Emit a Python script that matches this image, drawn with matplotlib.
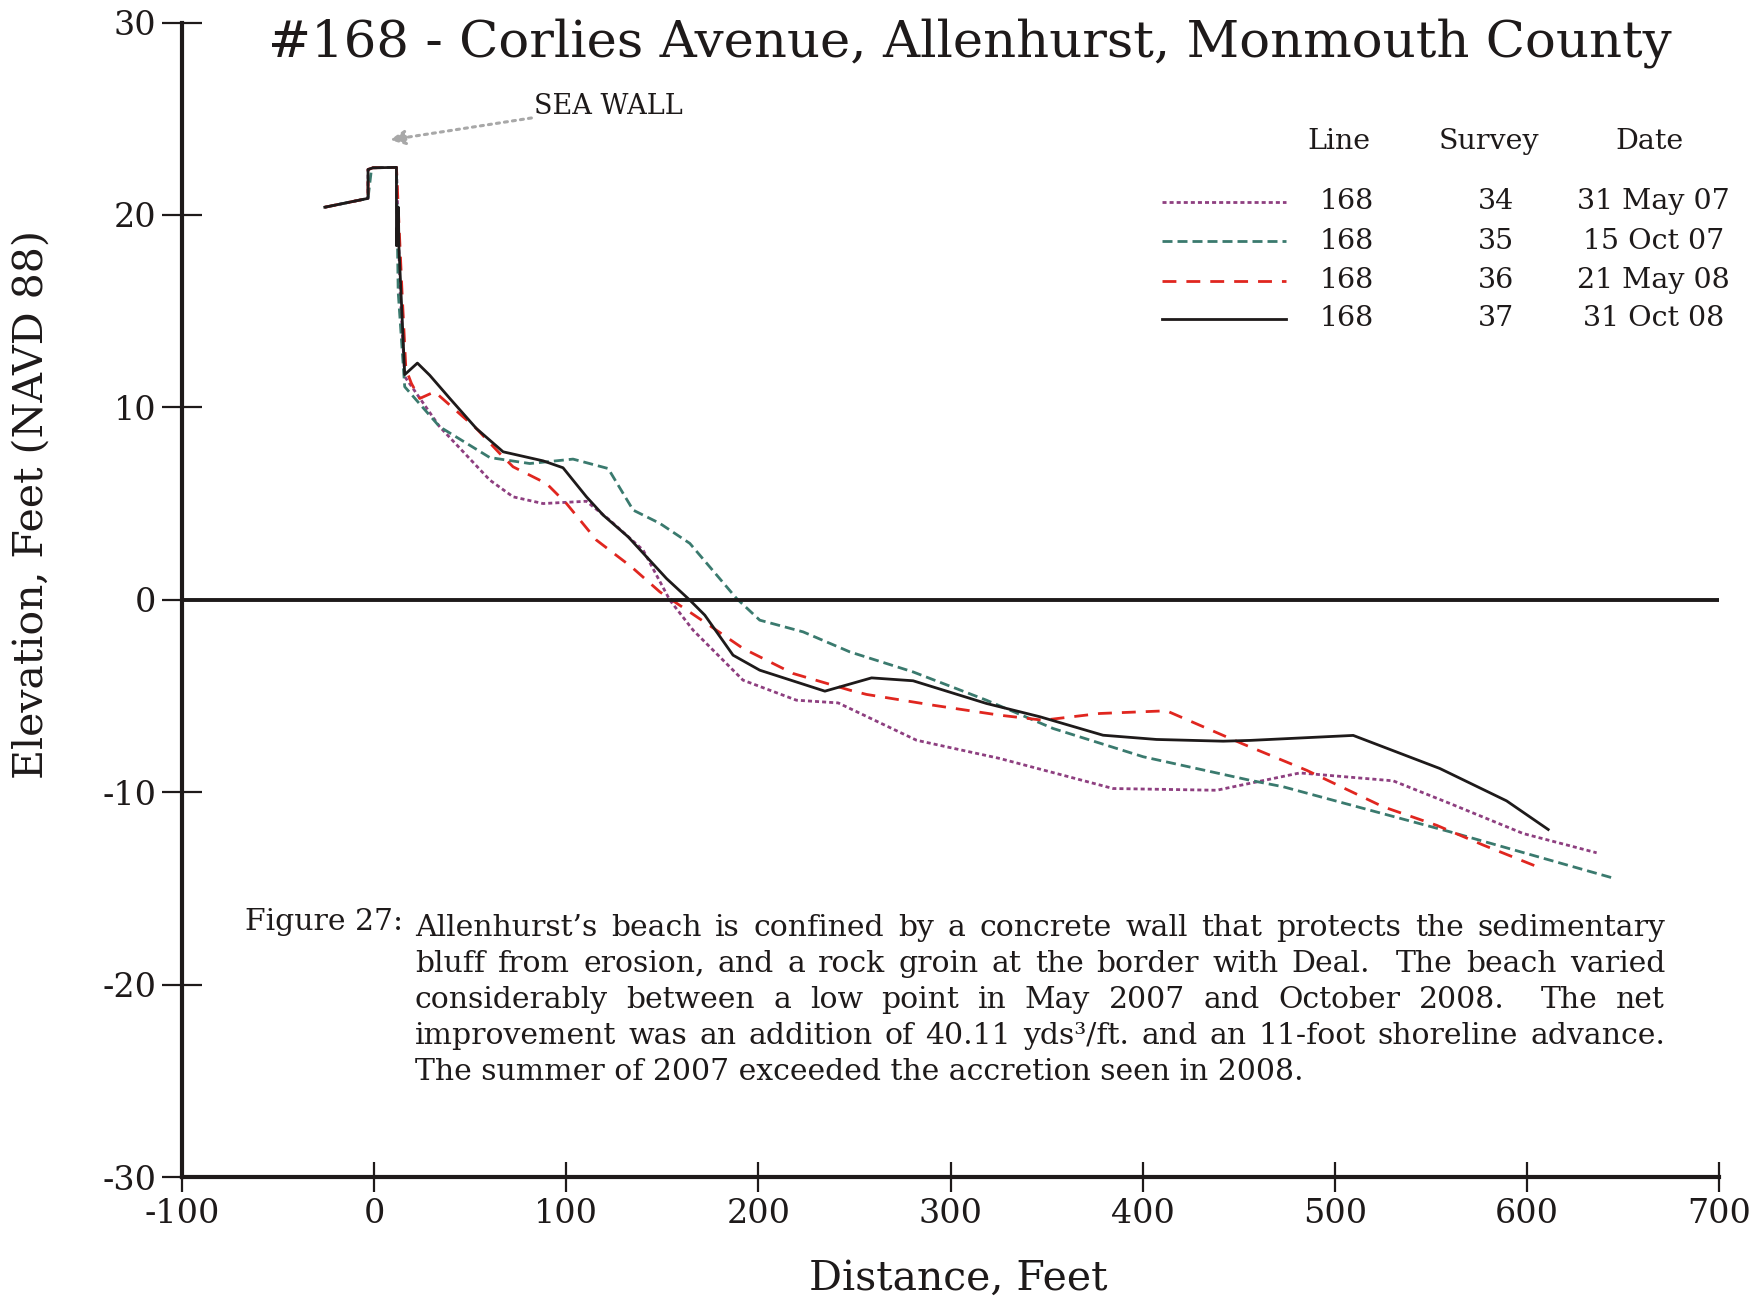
import matplotlib
matplotlib.use("Agg")
import matplotlib.pyplot as plt
from matplotlib.lines import Line2D

plt.rcParams['font.family'] = ['DejaVu Serif']
plt.rcParams['axes.unicode_minus'] = False

# Survey 34, 31 May 07
dist_34 = [-25.7, -3.2, -3.2, -0.6, 11.6, 13.5, 15.9, 34.1, 60.2, 72.3, 87.9, 110.5, 122.6,
           140.0, 153.9, 166.0, 192.0, 219.8, 241.5, 282.3, 325.7, 384.6, 438.5, 481.8,
           530.4, 560.0, 598.1, 636.3]
elev_34 = [20.4, 20.86, 22.36, 22.45, 22.47, 16.0, 11.6, 8.99, 6.22, 5.35, 5.0, 5.12, 4.14,
           2.58, -0.02, -1.58, -4.18, -5.22, -5.36, -7.3, -8.25, -9.81, -9.9, -9.0,
           -9.41, -10.59, -12.15, -13.15]

# Survey 35, 15 Oct 07
dist_35 = [-25.7, -3.2, -1.5, -0.6, 11.6, 12.5, 15.9, 34.1, 60.2, 81.0, 103.5, 121.8, 134.8,
           148.7, 164.3, 188.6, 200.7, 223.3, 247.6, 280.5, 318.7, 353.4, 400.3, 455.8,
           473.2, 560.0, 645.8]
elev_35 = [20.4, 20.86, 22.3, 22.45, 22.47, 16.0, 11.07, 8.99, 7.39, 7.08, 7.31, 6.82, 4.66,
           3.97, 2.93, 0.07, -1.06, -1.67, -2.71, -3.75, -5.22, -6.69, -8.16, -9.38,
           -9.72, -12.06, -14.49]

# Survey 36, 21 May 08
dist_36 = [-25.7, -3.2, -3.2, -0.6, 11.6, 14.5, 16.5, 19.4, 23.7, 31.5, 53.2, 65.4, 72.3,
           84.5, 89.7, 100.1, 115.7, 133.9, 148.7, 173.0, 192.0, 218.0, 247.6, 256.3,
           290.9, 325.7, 348.2, 377.7, 412.4, 452.3, 485.3, 525.2, 553.0, 577.3, 606.8]
elev_36 = [20.4, 20.86, 22.36, 22.45, 22.47, 16.0, 12.0, 11.24, 10.46, 10.81, 8.9, 7.6, 6.91,
           6.3, 6.04, 5.0, 3.1, 1.71, 0.41, -1.23, -2.53, -3.83, -4.7, -4.92,
           -5.48, -6.0, -6.26, -5.91, -5.77, -7.5, -8.86, -10.76, -11.72, -12.75, -13.93]

# Survey 37, 31 Oct 08
dist_37 = [-25.7, -3.2, -3.2, -0.6, 11.6, 11.6, 12.6, 12.9, 15.9, 22.5, 28.9, 39.4, 53.2,
           67.1, 87.9, 98.3, 110.5, 119.2, 132.2, 152.2, 164.3, 172.1, 186.8, 200.7,
           234.6, 258.9, 280.5, 318.7, 346.5, 379.4, 407.2, 441.9, 455.8, 509.6, 554.7,
           589.4, 611.1]
elev_37 = [20.4, 20.86, 22.36, 22.45, 22.47, 18.4, 20.4, 18.3, 11.7, 12.3, 11.67, 10.46, 8.9,
           7.69, 7.22, 6.86, 5.35, 4.4, 3.27, 1.1, -0.02, -0.8, -2.88, -3.66,
           -4.75, -4.06, -4.21, -5.39, -6.08, -7.04, -7.26, -7.35, -7.31, -7.05, -8.77,
           -10.45, -11.94]

line_nums = ['168', '168', '168', '168']
surveys = ['34', '35', '36', '37']
dates = ['31 May 07', '15 Oct 07', '21 May 08', '31 Oct 08']

x_ticks = [-100, 0, 100, 200, 300, 400, 500, 600, 700]
y_ticks = [-30, -20, -10, 0, 10, 20, 30]

caption_lines = [
    "Allenhurst\u2019s beach is confined by a concrete wall that protects the sedimentary",
    "bluff from erosion, and a rock groin at the border with Deal.  The beach varied",
    "considerably between a low point in May 2007 and October 2008.  The net",
    "improvement was an addition of 40.11 yds\u00b3/ft. and an 11-foot shoreline advance.",
    "The summer of 2007 exceeded the accretion seen in 2008.",
]

styles = [
    dict(color='#8e3f80', dashes=(1.45, 1.1)),
    dict(color='#3a7a6e', dashes=(3.6, 1.8)),
    dict(color='#e0261f', dashes=(5, 3.6)),
    dict(color='#1e1a1a', linestyle='-'),
]
series = [(dist_34, elev_34), (dist_35, elev_35), (dist_36, elev_36), (dist_37, elev_37)]

fig = plt.figure(figsize=(17.64, 13.01), dpi=100)
ax = fig.add_axes([0.1032, 0.0953, 0.8713, 0.8874])

for (d, e), st in zip(series, styles):
    ax.plot(d, e, linewidth=2.0, **st)

ax.axhline(0, color='#1e1a1a', linewidth=2.8)

ax.set_xlim(-100, 700)
ax.set_ylim(-30, 30)
ax.set_xticks(x_ticks)
ax.set_yticks(y_ticks)
for s in ['top', 'right']:
    ax.spines[s].set_visible(False)
for s in ['left', 'bottom']:
    ax.spines[s].set_linewidth(3.0)
    ax.spines[s].set_color('#1e1a1a')
ax.tick_params(axis='y', direction='inout', length=29, width=1.6, labelsize=24, pad=4,
               colors='#1e1a1a')
ax.tick_params(axis='x', direction='inout', length=22, width=1.6, labelsize=24, pad=4,
               colors='#1e1a1a')

fig.text(0.55, 0.967, '#168 - Corlies Avenue, Allenhurst, Monmouth County',
         ha='center', va='center', fontsize=37, color='#1e1a1a')
fig.text(0.018, 0.612, 'Elevation, Feet (NAVD 88)', rotation=90, ha='center', va='center',
         fontsize=29.5, color='#1e1a1a')
fig.text(0.543, 0.017, 'Distance, Feet', ha='center', va='center', fontsize=29.5,
         color='#1e1a1a')

# sea wall note
ax.annotate('SEA WALL', xy=(8.3, 23.9), xytext=(83.3, 25.66), fontsize=19.5, va='center',
            color='#1e1a1a',
            arrowprops=dict(arrowstyle='-|>', color='#a8a8a8', linestyle=':', linewidth=2.2,
                            mutation_scale=22, shrinkA=0, shrinkB=0))

# legend table
hdr_y = 0.8967
row_y = [0.8447, 0.8105, 0.7763, 0.7432]
for label, xc in zip(['Line', 'Survey', 'Date'], [0.7525, 0.85, 0.955]):
    ax.text(xc, hdr_y, label, transform=ax.transAxes, ha='center', va='center', fontsize=20.5,
            color='#1e1a1a')
for i, st in enumerate(styles):
    ax.add_line(Line2D([0.6375, 0.718], [row_y[i], row_y[i]], transform=ax.transAxes,
                       linewidth=2.0, **st))
    ax.text(0.7575, row_y[i], line_nums[i], transform=ax.transAxes, ha='center', va='center',
            fontsize=20.5, color='#1e1a1a')
    ax.text(0.855, row_y[i], surveys[i], transform=ax.transAxes, ha='center', va='center',
            fontsize=20.5, color='#1e1a1a')
    ax.text(0.9575, row_y[i], dates[i], transform=ax.transAxes, ha='center', va='center',
            fontsize=20.5, color='#1e1a1a')

# caption, justified by hand (a double space counts as two gaps)
cap_size = 21.5
fig.text(0.139, 1 - 922 / 1301, 'Figure 27:', ha='left', va='center', fontsize=cap_size,
         color='#1e1a1a')
renderer = fig.canvas.get_renderer()
fig_w = fig.get_figwidth() * fig.dpi
x0, x1 = 415 / 1764, 1665 / 1764
for k, line in enumerate(caption_lines):
    y = 1 - (928 + 36 * k) / 1301
    if k == len(caption_lines) - 1:
        fig.text(x0, y, line, ha='left', va='center', fontsize=cap_size, color='#1e1a1a')
        continue
    tokens = line.split(' ')
    words, units = [], []
    extra = 0
    for tok in tokens:
        if tok == '':
            extra += 1
            continue
        if words:
            units.append(1 + extra)
        words.append(tok)
        extra = 0
    texts = [fig.text(0, y, w, ha='left', va='center', fontsize=cap_size, color='#1e1a1a')
             for w in words]
    widths = [t.get_window_extent(renderer).width for t in texts]
    gap = ((x1 - x0) * fig_w - sum(widths)) / sum(units)
    xp = x0 * fig_w
    for j, (t, w) in enumerate(zip(texts, widths)):
        t.set_x(xp / fig_w)
        if j < len(units):
            xp += w + gap * units[j]

fig.savefig('out.png', dpi=100)
